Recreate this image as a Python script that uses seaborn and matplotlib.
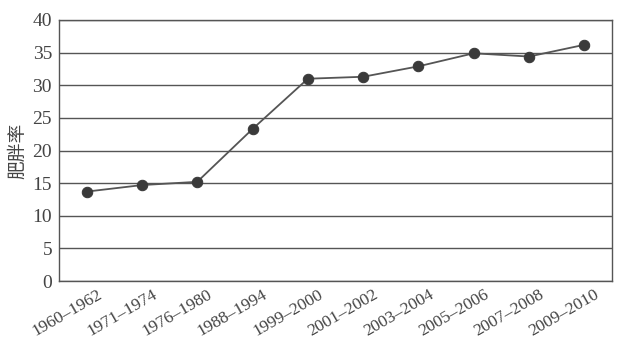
import matplotlib
matplotlib.use("Agg")
import matplotlib.pyplot as plt
import matplotlib.transforms as mtransforms
import seaborn as sns
import pandas as pd
import numpy as np

periods = ["1960–1962", "1971–1974", "1976–1980", "1988–1994", "1999–2000",
           "2001–2002", "2003–2004", "2005–2006", "2007–2008", "2009–2010"]
obesity = [13.7, 14.7, 15.2, 23.3, 31.0, 31.3, 32.9, 34.9, 34.4, 36.2]
yticks = [0, 5, 10, 15, 20, 25, 30, 35, 40]

sns.set_style("white")
plt.rcParams['font.family'] = ['Liberation Serif', 'Noto Sans CJK SC']

df = pd.DataFrame({"period": periods, "rate": obesity, "x": np.arange(len(periods))})

fig = plt.figure(figsize=(6.29, 3.43), dpi=100)
ax = fig.add_axes([59/629, 62/343, (612-59)/629, (281-20)/343])

ink = "#3a3a3a"
for y in yticks:
    ax.axhline(y, color="#555555", lw=1.0, zorder=0)

sns.lineplot(data=df, x="x", y="rate", ax=ax, color="#555555", lw=1.3, marker="o",
             markersize=7.5, markeredgecolor=ink, markerfacecolor=ink)

ax.set_xlim(-0.5, len(periods) - 0.5)
ax.set_ylim(0, 40)
ax.set_yticks(yticks)
ax.set_yticklabels([str(v) for v in yticks], fontsize=14, color="#444444")
ax.tick_params(axis="y", length=0, pad=5)

ax.set_xticks(np.arange(len(periods)))
ax.set_xticklabels(periods, fontsize=12.5, color="#444444", rotation=30,
                   ha="right", rotation_mode="anchor")
ax.tick_params(axis="x", which="major", length=0, pad=4)
offset = mtransforms.ScaledTranslation(10/100, 0, fig.dpi_scale_trans)
for lab in ax.get_xticklabels():
    lab.set_transform(lab.get_transform() + offset)
ax.set_xticks(np.arange(len(periods) - 1) + 0.5, minor=True)
ax.tick_params(axis="x", which="minor", direction="in", length=5, color="#555555", width=1)

ax.set_xlabel("")
ax.set_ylabel("肥胖率", fontsize=13.5, color="#444444", family=['Noto Sans CJK SC'], labelpad=3)

for s in ax.spines.values():
    s.set_color("#555555")
    s.set_linewidth(1.0)

fig.savefig("out.png", dpi=100, facecolor="white")
